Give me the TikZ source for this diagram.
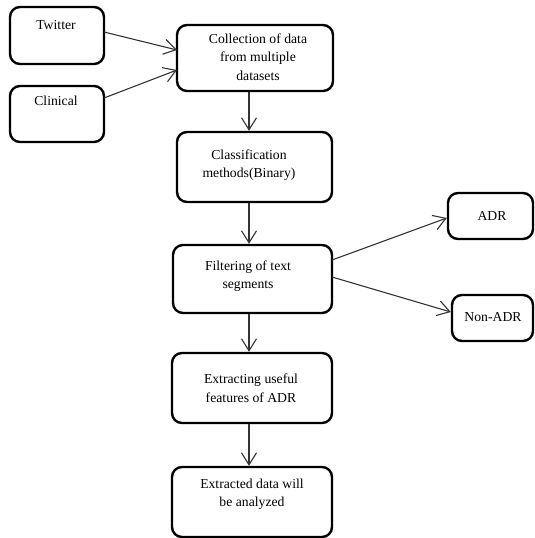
\documentclass[tikz,border=0pt]{standalone}
\usepackage{fontspec}
\setmainfont{Liberation Serif}
\usetikzlibrary{arrows.meta}
\begin{document}
\begin{tikzpicture}[x=1pt,y=-1pt,
  box/.style={draw=black,line width=2.4pt,rounded corners=10pt,minimum width=#1,inner sep=0pt},
  txt/.style={align=center,inner sep=0pt,font=\fontsize{13.7}{18.5}\selectfont,text=black},
  conn/.style={draw=black!80,line width=1.1pt,-{Straight Barb[length=12pt,width=15pt,line width=1.1pt]}}]
\useasboundingbox (0,0) rectangle (535,538);
% boxes
\node[box=94pt,minimum height=57pt] (tw) at (57,35.5) {};
\node[box=94pt,minimum height=56pt] (cl) at (57,114) {};
\node[box=156pt,minimum height=66pt] (col) at (255,58) {};
\node[box=155pt,minimum height=70pt] (cls) at (254.5,167) {};
\node[box=159pt,minimum height=68pt] (fil) at (252.5,279) {};
\node[box=85pt,minimum height=46pt] (adr) at (490.5,216) {};
\node[box=81pt,minimum height=46pt] (nadr) at (492.5,318) {};
\node[box=160pt,minimum height=70pt] (ext) at (252,388) {};
\node[box=160pt,minimum height=70pt] (ana) at (252,502) {};
% texts
\node[txt] (twt) at (56,25) {Twitter};
\node[txt] (clt) at (56,101) {Clinical};
\node[txt] (colt) at (258,57) {Collection of data\\from multiple\\datasets};
\node[txt] (clst) at (249,165) {Classification\\methods(Binary)};
\node[txt] (filt) at (248,276) {Filtering of text\\segments};
\node[txt] (adrt) at (492,216) {ADR};
\node[txt] (nadrt) at (493,317) {Non-ADR};
\node[txt] (extt) at (251,388) {Extracting useful\\features of ADR};
\node[txt] (anat) at (252,494) {Extracted data will\\be analyzed};
% connectors
\coordinate (ax) at (249,0);
\coordinate (tws) at (104,32);
\coordinate (cls1) at (104,98);
\draw[conn] (tws) -- (177,50);
\draw[conn] (cls1) -- (177,70);
\draw[conn] (col.south -| ax) -- (cls.north -| ax);
\draw[conn] (cls.south -| ax) -- (fil.north -| ax);
\draw[conn] (fil.south -| ax) -- (ext.north -| ax);
\draw[conn] (ext.south -| ax) -- (ana.north -| ax);
\draw[conn] (332,260) -- (adr.west |- 0,218);
\draw[conn] (332,277) -- (nadr.west |- 0,312);
\end{tikzpicture}
\end{document}
